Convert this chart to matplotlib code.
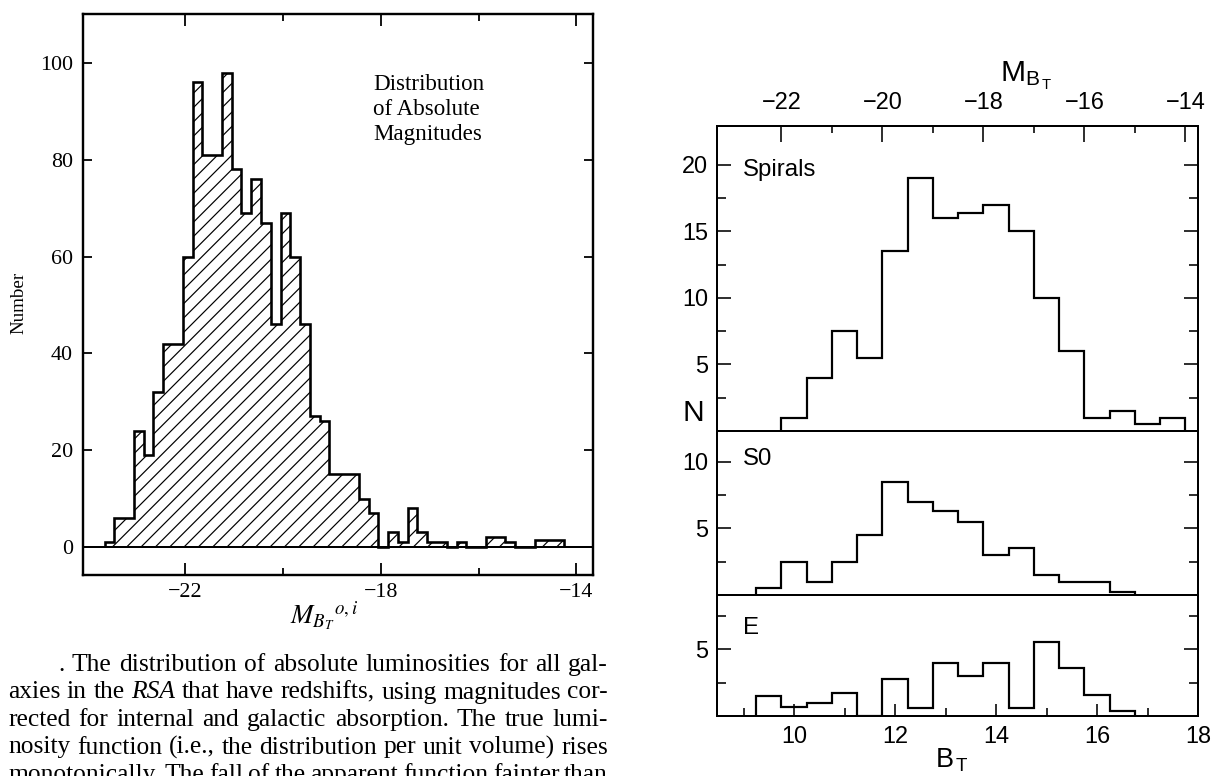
import matplotlib
matplotlib.use("Agg")
import matplotlib.pyplot as plt
from matplotlib import font_manager
from matplotlib.ticker import FixedLocator, NullLocator

# ---------------------------------------------------------------- data
# Left: absolute magnitudes of all RSA galaxies with redshifts (0.2 mag bins)
rsa_first_edge = -23.65
rsa_bin_width = 0.2
rsa_counts = [1, 6, 6, 24, 19, 32, 42, 42, 60, 96, 81, 81, 98, 78, 69, 76,
              67, 46, 69, 60, 46, 27, 26, 15, 15, 15, 10, 7,
              0, 3, 1, 8, 3, 1, 1, 0, 1, 0, 0, 2, 2, 1, 0, 0, 1.5, 1.5, 1.5]
rsa_xticks_major = [-22, -18, -14]
rsa_xticks_minor = [-20, -16]
rsa_yticks = [0, 20, 40, 60, 80, 100]

# Right: apparent total magnitudes by morphological type (0.5 mag bins)
type_bin_width = 0.5
spiral_first_edge = 9.75
spiral_counts = [1, 4, 7.5, 5.5, 13.5, 19, 16, 16.4, 17, 15, 10, 6, 1, 1.5, 0.5, 1]
s0_first_edge = 9.25
s0_counts = [0.5, 2.5, 1, 2.5, 4.5, 8.5, 7, 6.3, 5.5, 3, 3.5, 1.5, 1, 1, 0.2]
e_first_edge = 9.25
e_counts = [1.5, 0.7, 1, 1.75, 0, 2.8, 0.6, 4, 3, 4, 0.6, 5.5, 3.6, 1.6, 0.4]
distance_modulus = 31.75
bt_ticks_major = [10, 12, 14, 16, 18]
bt_ticks_minor = [9, 11, 13, 15, 17]
mb_ticks_major = [-22, -20, -18, -16, -14]
mb_ticks_minor = [-21, -19, -17, -15]
spiral_yticks = [5, 10, 15, 20]
s0_yticks = [5, 10]
e_yticks = [5]
half_steps = [2.5, 7.5, 12.5, 17.5]

caption_lines = [
    ". The distribution of absolute luminosities for all gal-",
    "axies in the *RSA* that have redshifts, using magnitudes cor-",
    "rected for internal and galactic absorption. The true lumi-",
    "nosity function (i.e., the distribution per unit volume) rises",
    "monotonically. The fall of the apparent function fainter than",
]

# ---------------------------------------------------------------- setup
W, H, DPI = 1228, 776, 86


def P(px):
    """pixels -> points"""
    return px * 72.0 / DPI


def fx(x):
    return x / W


def fy(y):
    return 1 - y / H


def rect(x0, y0, x1, y1):
    return [x0 / W, 1 - y1 / H, (x1 - x0) / W, (y1 - y0) / H]


def edges(first, width, n):
    return [first + i * width for i in range(n + 1)]


names = {f.name for f in font_manager.fontManager.ttflist}
SERIF = next(f for f in ["Liberation Serif", "DejaVu Serif"] if f in names)
SANS = next(f for f in ["Liberation Sans", "DejaVu Sans"] if f in names)

plt.rcParams["font.family"] = SERIF
plt.rcParams["mathtext.fontset"] = "custom"
plt.rcParams["mathtext.rm"] = SANS
plt.rcParams["mathtext.it"] = SANS + ":italic"
plt.rcParams["hatch.linewidth"] = P(1.2)
plt.rcParams["axes.unicode_minus"] = True

fig = plt.figure(figsize=(W / DPI, H / DPI), dpi=DPI)
fig.patch.set_facecolor("white")

# ---------------------------------------------------------------- left panel
ax = fig.add_axes(rect(83, 14, 593, 575))
ax.set_xlim(-24.09, -13.66)
ax.set_ylim(-5.8, 110.1)
for s in ax.spines.values():
    s.set_linewidth(P(2.4))

rsa_edges = edges(rsa_first_edge, rsa_bin_width, len(rsa_counts))
ax.stairs(rsa_counts, rsa_edges, baseline=0, fill=True, facecolor="none",
          edgecolor="black", hatch="//", linewidth=0)
ax.stairs(rsa_counts, rsa_edges, baseline=0, color="black", linewidth=P(2.6))
ax.axhline(0, color="black", linewidth=P(2.0))

ax.xaxis.set_major_locator(FixedLocator(rsa_xticks_major))
ax.xaxis.set_minor_locator(FixedLocator(rsa_xticks_minor))
ax.yaxis.set_major_locator(FixedLocator(rsa_yticks))
ax.yaxis.set_minor_locator(NullLocator())
ax.tick_params(axis="x", which="major", direction="in", top=True, bottom=True,
               length=P(12), width=P(1.8), pad=P(8), labelsize=P(22))
ax.tick_params(axis="x", which="minor", direction="in", top=True, bottom=True,
               length=P(7), width=P(1.8))
ax.tick_params(axis="y", which="major", direction="in", left=True, right=True,
               length=P(9), width=P(1.8), pad=P(10), labelsize=P(22))

fig.text(fx(19), fy(303), "Number", rotation=90, ha="center", va="center",
         fontsize=P(19))
for i, word in enumerate(["Distribution", "of Absolute", "Magnitudes"]):
    fig.text(fx(373), fy(90 + 25 * i), word, ha="left", va="baseline",
             fontsize=P(23))
fig.text(fx(290), fy(624), r"$M_{B_T}{}^{o,i}$", ha="left", va="baseline",
         fontsize=P(27), math_fontfamily="stix")

# caption set as a justified paragraph
renderer = fig.canvas.get_renderer()
cap_left, cap_first, cap_right = 8, 58, 608
for k, line in enumerate(caption_lines):
    y = 671 + 27.5 * k
    words = line.split()
    arts = []
    for w in words:
        italic = w.startswith("*")
        arts.append(fig.text(0, fy(y), w.strip("*"), ha="left", va="baseline",
                             fontsize=P(25.5),
                             style="italic" if italic else "normal"))
    widths = [a.get_window_extent(renderer).width for a in arts]
    start = cap_first if k == 0 else cap_left
    gap = (cap_right - start - sum(widths)) / (len(words) - 1)
    x = start
    for a, wd in zip(arts, widths):
        a.set_x(fx(x))
        x += wd + gap

# ---------------------------------------------------------------- right panels
xl = (8.475, 18.0)
axS = fig.add_axes(rect(717, 126, 1198, 431))
axS0 = fig.add_axes(rect(717, 431, 1198, 595))
axE = fig.add_axes(rect(717, 595, 1198, 716))
panels = [
    (axS, spiral_counts, spiral_first_edge, (0, 22.9), spiral_yticks, "Spirals", 170),
    (axS0, s0_counts, s0_first_edge, (0, 12.3), s0_yticks, "S0", 459),
    (axE, e_counts, e_first_edge, (0, 9.05), e_yticks, "E", 628),
]
for a, counts, first, yl, yt, name, ly in panels:
    a.set_xlim(*xl)
    a.set_ylim(*yl)
    for s in a.spines.values():
        s.set_linewidth(P(2.0))
    a.stairs(counts, edges(first, type_bin_width, len(counts)), baseline=0,
             color="black", linewidth=P(2.2))
    a.yaxis.set_major_locator(FixedLocator(yt))
    a.yaxis.set_minor_locator(FixedLocator([v for v in half_steps if v < yl[1]]))
    a.tick_params(axis="y", which="major", direction="in", left=True, right=True,
                  length=P(14), width=P(1.6), pad=P(9), labelsize=P(23.5),
                  labelfontfamily=SANS)
    a.tick_params(axis="y", which="minor", direction="in", left=True, right=True,
                  length=P(9), width=P(1.6))
    if a is axE:
        a.xaxis.set_major_locator(FixedLocator(bt_ticks_major))
        a.xaxis.set_minor_locator(FixedLocator(bt_ticks_minor))
        a.tick_params(axis="x", which="major", direction="in", top=False,
                      length=P(12), width=P(1.6), pad=P(10), labelsize=P(23.5),
                      labelfontfamily=SANS)
        a.tick_params(axis="x", which="minor", direction="in", top=False,
                      length=P(8), width=P(1.6))
    else:
        a.xaxis.set_major_locator(NullLocator())
        a.xaxis.set_minor_locator(NullLocator())
    fig.text(fx(743), fy(ly), name, ha="left", va="center", fontsize=P(24),
             family=SANS)

top = axS.secondary_xaxis("top", functions=(lambda b: b - distance_modulus,
                                            lambda m: m + distance_modulus))
top.xaxis.set_major_locator(FixedLocator(mb_ticks_major))
top.xaxis.set_minor_locator(FixedLocator(mb_ticks_minor))
top.spines["top"].set_linewidth(P(2.0))
top.tick_params(axis="x", which="major", direction="in", length=P(16),
                width=P(1.6), pad=P(12), labelsize=P(23.5), labelfontfamily=SANS)
top.tick_params(axis="x", which="minor", direction="in", length=P(7),
                width=P(1.6))

fig.text(fx(1000), fy(82), r"$\mathrm{M_{B_{\,T}}}$", ha="left", va="baseline",
         fontsize=P(30), math_fontfamily="custom")
fig.text(fx(935), fy(767), r"$\mathrm{B_{\,T}}$", ha="left", va="baseline",
         fontsize=P(27), math_fontfamily="custom")
fig.text(fx(693), fy(413), "N", ha="center", va="center", fontsize=P(30),
         family=SANS)

fig.savefig("out.png", dpi=DPI, facecolor="white")
